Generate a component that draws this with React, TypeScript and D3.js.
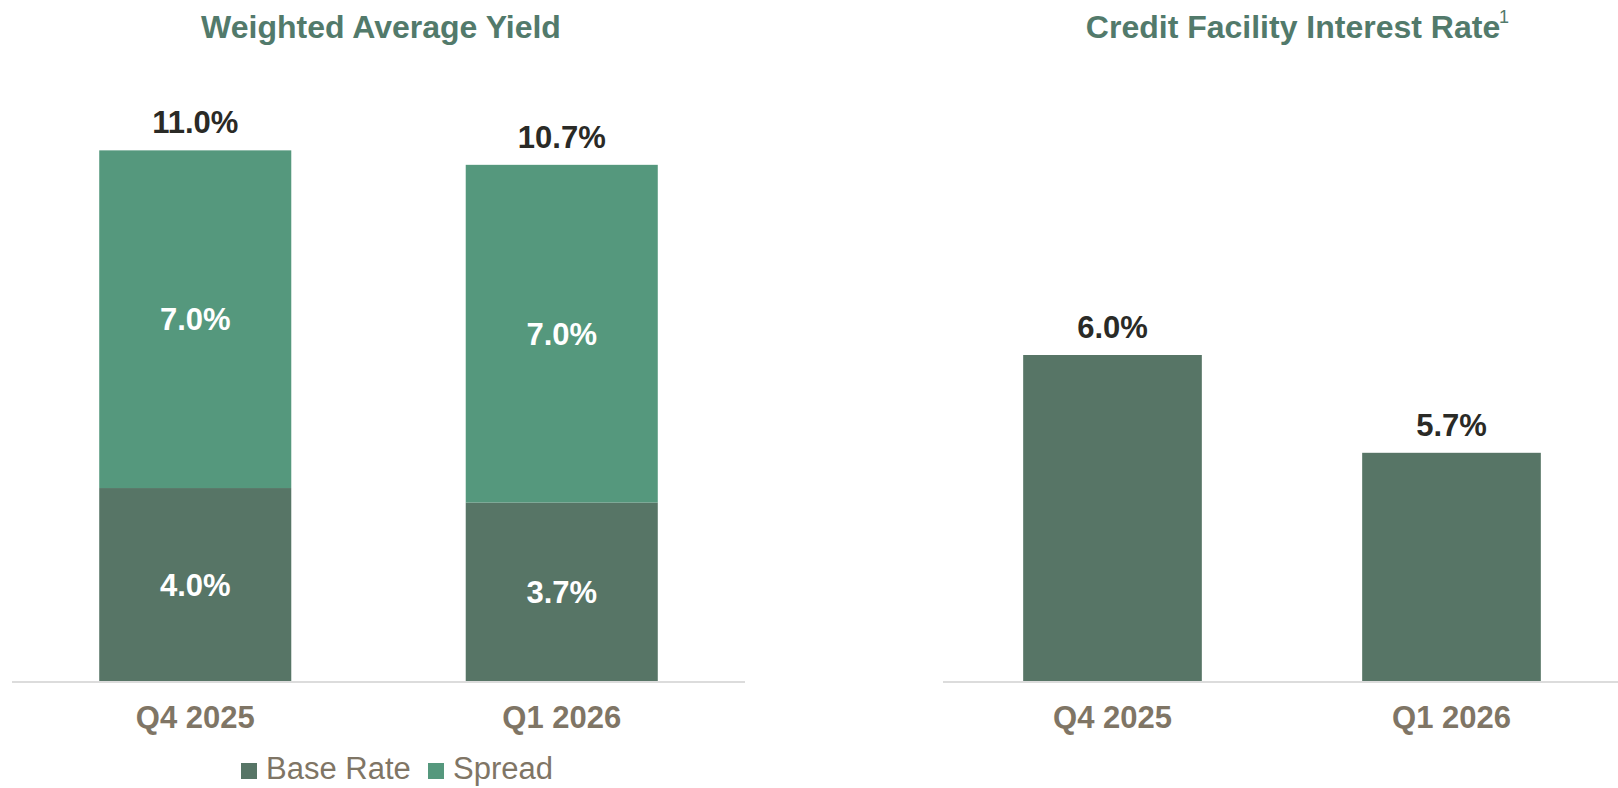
import React from "react";
import * as d3 from "d3";

// chart data
const quarters = ["Q4 2025", "Q1 2026"];
const baseRate = [4.0, 3.7];
const spread = [7.0, 7.0];
const creditRate = [6.0, 5.7];
const legendItems = ["Base Rate", "Spread"];

const W = 1618;
const H = 788;
const FONT = "'Liberation Sans', Arial, sans-serif";
const BASE_COLOR = "#577566";
const SPREAD_COLOR = "#55987d";
const TITLE_COLOR = "#527a6b";
const VALUE_COLOR = "#2a2a26";
const CAT_COLOR = "#7f7565";
const AXIS_COLOR = "#dcdcdc";
const baseline = 681;

const fmt = (v: number) => `${v.toFixed(1)}%`;

export default function App() {
  // left chart: stacked yield
  const xL = d3.scaleBand<string>().domain(quarters).range([12, 745]).paddingInner(0.476).paddingOuter(0.238);
  const yL = d3.scaleLinear().domain([0, 12]).range([baseline, baseline - 12 * 48.24]);

  // right chart: credit facility (axis does not start at zero)
  const xR = d3.scaleBand<string>().domain(quarters).range([943, 1621]).paddingInner(0.473).paddingOuter(0.2365);
  const yR = d3.scaleLinear().domain([5, 7]).range([baseline, baseline - 2 * 326]);

  const stacked = d3.stack<any>().keys(["base", "spread"])(
    quarters.map((q, i) => ({ q, base: baseRate[i], spread: spread[i] }))
  );
  const colors = [BASE_COLOR, SPREAD_COLOR];

  const legendX = [241, 428];

  return (
    <svg
      width={W}
      height={H}
      style={{ position: "absolute", left: 0, top: 0, background: "#fff" }}
      fontFamily={FONT}
    >
      {/* titles */}
      <text x={381} y={38} textAnchor="middle" fontSize={32} fontWeight="bold" fill={TITLE_COLOR}>
        Weighted Average Yield
      </text>
      <text x={1293} y={38} textAnchor="middle" fontSize={32} fontWeight="bold" fill={TITLE_COLOR}>
        Credit Facility Interest Rate
      </text>
      <text x={1499} y={23} fontSize={18} fill={TITLE_COLOR}>1</text>

      {/* left stacked bars */}
      {stacked.map((layer, li) =>
        layer.map((d, i) => (
          <g key={`${li}-${i}`}>
            <rect
              x={xL(quarters[i])}
              y={yL(d[1])}
              width={xL.bandwidth()}
              height={yL(d[0]) - yL(d[1])}
              fill={colors[li]}
            />
            <text
              x={(xL(quarters[i]) as number) + xL.bandwidth() / 2}
              y={(yL(d[0]) + yL(d[1])) / 2}
              dy="0.36em"
              textAnchor="middle"
              fontSize={31}
              fontWeight="bold"
              fill="#fff"
            >
              {fmt(d[1] - d[0])}
            </text>
          </g>
        ))
      )}
      {quarters.map((q, i) => (
        <text
          key={`tot-${q}`}
          x={(xL(q) as number) + xL.bandwidth() / 2}
          y={yL(baseRate[i] + spread[i]) - 17}
          textAnchor="middle"
          fontSize={31}
          fontWeight="bold"
          fill={VALUE_COLOR}
        >
          {fmt(baseRate[i] + spread[i])}
        </text>
      ))}
      <line x1={12} x2={745} y1={baseline + 1} y2={baseline + 1} stroke={AXIS_COLOR} strokeWidth={2} />
      {quarters.map((q) => (
        <text
          key={`catL-${q}`}
          x={(xL(q) as number) + xL.bandwidth() / 2}
          y={717}
          dy="0.36em"
          textAnchor="middle"
          fontSize={31}
          fontWeight="bold"
          fill={CAT_COLOR}
        >
          {q}
        </text>
      ))}

      {/* legend */}
      {legendItems.map((name, i) => (
        <g key={name}>
          <rect x={legendX[i]} y={763} width={16} height={16} fill={colors[i]} />
          <text x={legendX[i] + 25} y={779} fontSize={31} fill={CAT_COLOR}>
            {name}
          </text>
        </g>
      ))}

      {/* right bars */}
      {quarters.map((q, i) => (
        <g key={`r-${q}`}>
          <rect
            x={xR(q)}
            y={yR(creditRate[i])}
            width={xR.bandwidth()}
            height={baseline - yR(creditRate[i])}
            fill={BASE_COLOR}
          />
          <text
            x={(xR(q) as number) + xR.bandwidth() / 2}
            y={yR(creditRate[i]) - 17}
            textAnchor="middle"
            fontSize={31}
            fontWeight="bold"
            fill={VALUE_COLOR}
          >
            {fmt(creditRate[i])}
          </text>
          <text
            x={(xR(q) as number) + xR.bandwidth() / 2}
            y={717}
            dy="0.36em"
            textAnchor="middle"
            fontSize={31}
            fontWeight="bold"
            fill={CAT_COLOR}
          >
            {q}
          </text>
        </g>
      ))}
      <line x1={943} x2={1618} y1={baseline + 1} y2={baseline + 1} stroke={AXIS_COLOR} strokeWidth={2} />
    </svg>
  );
}
